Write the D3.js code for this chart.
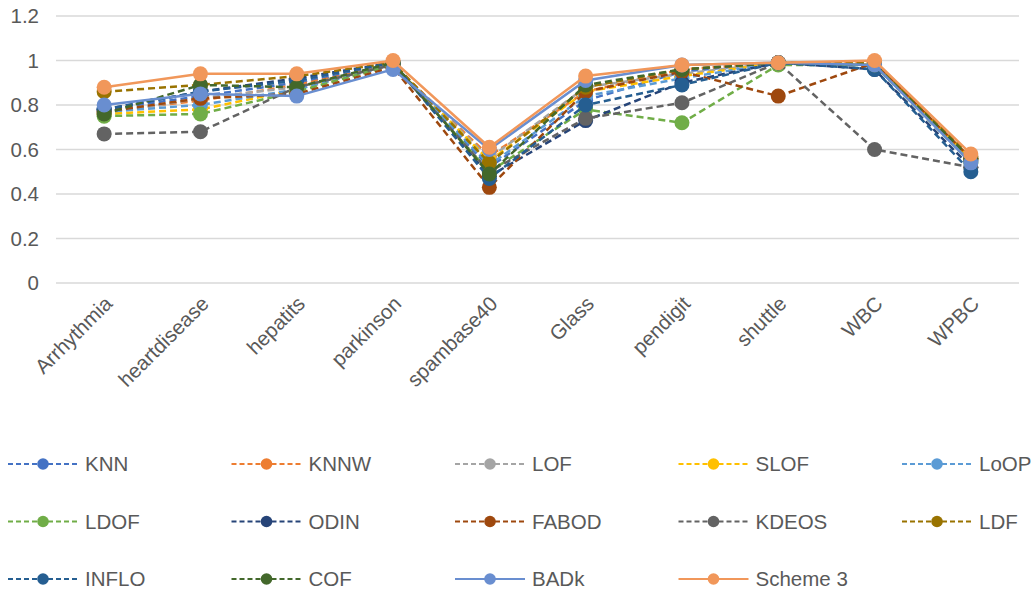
<!DOCTYPE html>
<html>
<head>
<meta charset="utf-8">
<script src="https://cdn.jsdelivr.net/npm/d3@7"></script>
<style>
body { margin: 0; background: #fff; }
svg text { font-family: "Liberation Sans", Arial, sans-serif; fill: #595959; }
.grid line { stroke: #d9d9d9; stroke-width: 1.5; }
</style>
</head>
<body>
<script>
// datasets on the x axis
var categories = ["Arrhythmia", "heartdisease", "hepatits", "parkinson", "spambase40", "Glass", "pendigit", "shuttle", "WBC", "WPBC"];
var yTicks = [0, 0.2, 0.4, 0.6, 0.8, 1, 1.2];

// one array per method
var seriesNames = ["KNN", "KNNW", "LOF", "SLOF", "LoOP", "LDOF", "ODIN", "FABOD", "KDEOS", "LDF", "INFLO", "COF", "BADk", "Scheme 3"];
var knn     = [0.78, 0.84, 0.90, 0.98, 0.52, 0.82, 0.95, 0.99, 0.98, 0.55];
var knnw    = [0.77, 0.82, 0.89, 0.98, 0.57, 0.86, 0.96, 0.99, 0.99, 0.56];
var lof     = [0.76, 0.83, 0.88, 0.98, 0.56, 0.88, 0.94, 0.99, 0.98, 0.55];
var slof    = [0.76, 0.78, 0.87, 0.98, 0.55, 0.86, 0.93, 0.99, 0.98, 0.56];
var loop    = [0.77, 0.80, 0.87, 0.98, 0.53, 0.84, 0.92, 0.99, 0.98, 0.55];
var ldof    = [0.75, 0.76, 0.86, 0.98, 0.50, 0.78, 0.72, 0.98, 0.98, 0.54];
var odin    = [0.78, 0.86, 0.92, 0.99, 0.48, 0.73, 0.90, 0.99, 0.96, 0.52];
var fabod   = [0.77, 0.83, 0.85, 0.97, 0.43, 0.86, 0.95, 0.84, 0.99, 0.56];
var kdeos   = [0.67, 0.68, 0.88, 0.98, 0.50, 0.74, 0.81, 0.99, 0.60, 0.52];
var ldf     = [0.86, 0.89, 0.93, 0.99, 0.54, 0.88, 0.96, 0.99, 0.99, 0.57];
var inflo   = [0.78, 0.86, 0.91, 0.99, 0.47, 0.80, 0.89, 0.99, 0.96, 0.50];
var cof     = [0.76, 0.89, 0.88, 0.99, 0.49, 0.89, 0.96, 0.99, 0.98, 0.56];
var badk    = [0.80, 0.85, 0.84, 0.96, 0.60, 0.91, 0.98, 0.99, 0.98, 0.54];
var scheme3 = [0.88, 0.94, 0.94, 1.00, 0.61, 0.93, 0.98, 0.99, 1.00, 0.58];

var seriesValues = [knn, knnw, lof, slof, loop, ldof, odin, fabod, kdeos, ldf, inflo, cof, badk, scheme3];
var seriesColors = ["#4472C4", "#ED7D31", "#A5A5A5", "#FFC000", "#5B9BD5", "#70AD47", "#264478", "#9E480E", "#636363", "#997300", "#255E91", "#43682B", "#698ED0", "#F1975A"];
var seriesDashed = [true, true, true, true, true, true, true, true, true, true, true, true, false, false];

var width = 1035, height = 592;
var margin = {left: 56, right: 16, top: 16, bottom: 309};
var fontSize = "20.5px";

var svg = d3.select("body").append("svg")
    .attr("width", width)
    .attr("height", height);

var x = d3.scalePoint()
    .domain(categories)
    .range([margin.left, width - margin.right])
    .padding(0.5);

var y = d3.scaleLinear()
    .domain([0, 1.2])
    .range([height - margin.bottom, margin.top]);

// gridlines
svg.append("g")
    .attr("class", "grid")
    .selectAll("line")
    .data(yTicks)
    .enter()
    .append("line")
    .attr("x1", margin.left)
    .attr("x2", width - margin.right)
    .attr("y1", function(d){ return y(d); })
    .attr("y2", function(d){ return y(d); });

// y axis labels
var yAxis = d3.axisLeft(y).tickValues(yTicks).tickSize(0).tickPadding(17)
    .tickFormat(function(d){ return d3.format("")(+d.toFixed(1)); });
var yg = svg.append("g")
    .attr("transform", "translate(" + margin.left + ",0)")
    .call(yAxis);
yg.select(".domain").remove();
yg.selectAll("text").style("font-size", fontSize).attr("fill", "#595959");

// x axis labels, rotated
var xAxis = d3.axisBottom(x).tickSize(0).tickPadding(0);
var xg = svg.append("g")
    .attr("transform", "translate(0," + (height - margin.bottom) + ")")
    .call(xAxis);
xg.select(".domain").remove();
xg.selectAll("text")
    .style("font-size", fontSize)
    .attr("fill", "#595959")
    .attr("text-anchor", "end")
    .attr("dy", "0")
    .attr("y", 0)
    .attr("transform", "translate(9,22) rotate(-45)");

// lines and markers
var line = d3.line()
    .x(function(d, i){ return x(categories[i]); })
    .y(function(d){ return y(d); });

seriesValues.forEach(function(vals, s){
    var g = svg.append("g").attr("class", "series");
    g.append("path")
        .datum(vals)
        .attr("d", line)
        .attr("fill", "none")
        .attr("stroke", seriesColors[s])
        .attr("stroke-width", 2.5)
        .attr("stroke-dasharray", seriesDashed[s] ? "7,4" : null);
    g.selectAll("circle")
        .data(vals)
        .enter()
        .append("circle")
        .attr("cx", function(d, i){ return x(categories[i]); })
        .attr("cy", function(d){ return y(d); })
        .attr("r", 7.5)
        .attr("fill", seriesColors[s]);
});

// legend, 5 columns
var legend = svg.append("g").attr("class", "legend");
seriesNames.forEach(function(name, s){
    var col = s % 5, row = Math.floor(s / 5);
    var lx = 8 + col * 223.5, ly = 464 + row * 57.5;
    var item = legend.append("g").attr("transform", "translate(" + lx + "," + ly + ")");
    item.append("line")
        .attr("x1", 0).attr("x2", 70)
        .attr("stroke", seriesColors[s])
        .attr("stroke-width", 2)
        .attr("stroke-dasharray", seriesDashed[s] ? "5,3" : null);
    item.append("circle")
        .attr("cx", 35).attr("r", 5.8)
        .attr("fill", seriesColors[s]);
    item.append("text")
        .attr("x", 77)
        .attr("dy", "0.35em")
        .style("font-size", fontSize)
        .text(name);
});
</script>
</body>
</html>
